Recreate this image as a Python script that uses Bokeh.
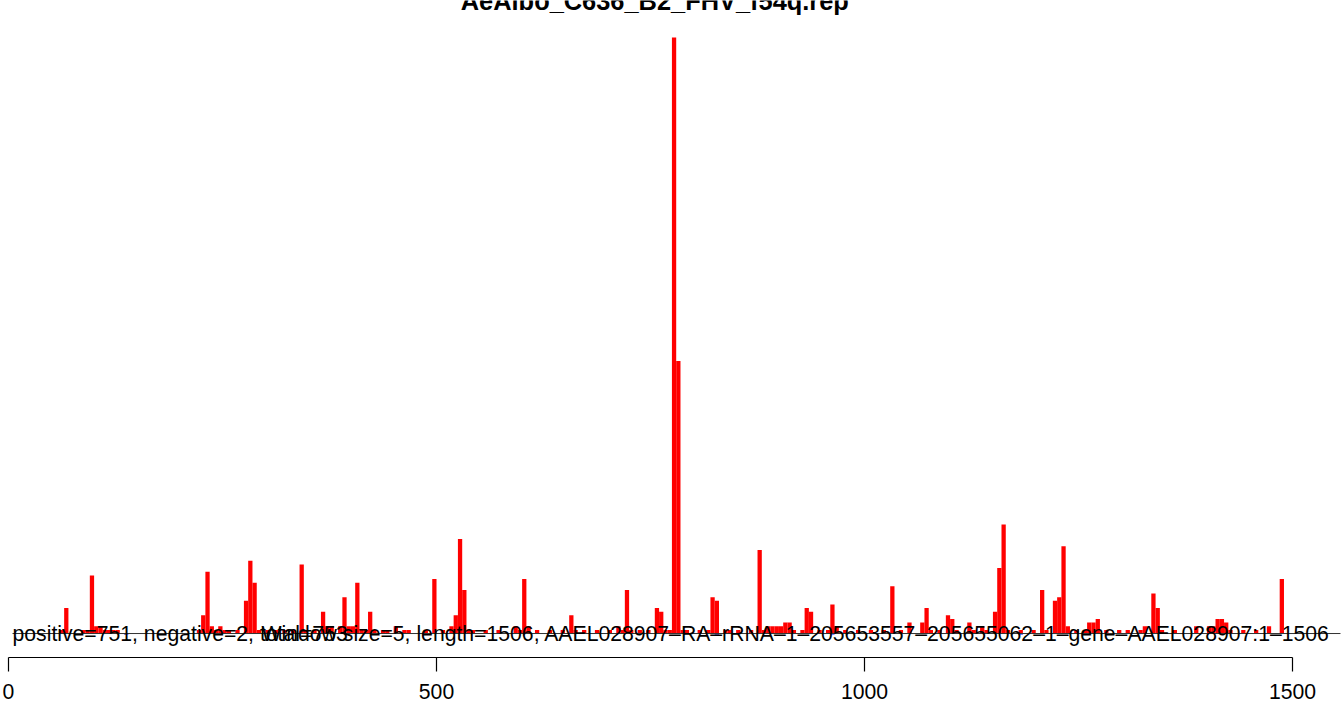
from bokeh.plotting import figure
from bokeh.models import Range1d, LinearAxis, FixedTicker, ColumnDataSource
from bokeh.core.properties import value
from bokeh.embed import file_html
from bokeh.resources import INLINE

TITLE = "AeAlbo_C636_B2_FHV_f54q.rep"
WINDOW = 5
LENGTH = 1506
POSITIVE_LABEL = "positive=751, negative=2, total=753"
INFO_LABEL = ("Window size=5, length=1506, AAEL028907\u2013RA\u2013rRNA\u20131\u2013205653557\u2013"
              "205655062\u20131\u2013gene\u2013AAEL028907:1\u20131506")
X_TICKS = [0, 500, 1000, 1500]

# window start positions and positive-strand counts
POS_BIN = [60, 65, 85, 90, 95, 100, 105, 110, 115, 120, 125, 220, 225, 230, 235, 240, 245, 250,
           255, 265, 275, 280, 285, 290, 300, 310, 320, 330, 340, 345, 355, 365, 370, 375, 385,
           390, 395, 400, 405, 410, 415, 420, 425, 435, 440, 450, 460, 465, 485, 495, 505, 515,
           520, 525, 530, 535, 540, 555, 570, 590, 595, 600, 605, 615, 630, 645, 655, 660, 670,
           685, 700, 710, 715, 720, 725, 735, 745, 755, 760, 765, 770, 775, 780, 785, 790, 805,
           815, 820, 825, 835, 840, 850, 865, 875, 880, 885, 890, 895, 900, 905, 910, 915, 925,
           930, 935, 945, 955, 960, 965, 975, 990, 1005, 1020, 1030, 1040, 1050, 1065, 1070,
           1075, 1085, 1095, 1100, 1105, 1120, 1125, 1135, 1140, 1150, 1155, 1160, 1165, 1180,
           1195, 1205, 1210, 1220, 1225, 1230, 1235, 1245, 1255, 1260, 1265, 1270, 1280, 1295,
           1305, 1320, 1325, 1335, 1340, 1345, 1360, 1385, 1400, 1405, 1410, 1415, 1420, 1425,
           1440, 1455, 1470, 1485]
POS_COUNT = [1, 7, 1, 1, 16, 2, 2, 1, 1, 1, 1, 1, 5, 17, 2, 1, 2, 1,
             1, 1, 9, 20, 14, 1, 1, 1, 1, 1, 19, 1, 1, 6, 2, 2, 2,
             10, 2, 2, 14, 1, 1, 6, 1, 1, 1, 2, 1, 1, 1, 15, 1, 2,
             5, 26, 12, 1, 1, 1, 1, 2, 1, 15, 2, 1, 1, 1, 5, 1, 1,
             1, 1, 2, 1, 12, 1, 1, 1, 7, 6, 1, 1, 164, 75, 1, 1, 1,
             1, 10, 9, 1, 1, 1, 1, 23, 1, 2, 2, 2, 2, 3, 3, 1, 1,
             7, 6, 1, 1, 8, 2, 1, 1, 1, 1, 13, 1, 3, 3, 7,
             1, 1, 5, 4, 1, 3, 1, 2, 1, 6, 18, 30, 1, 1,
             1, 12, 1, 9, 10, 24, 2, 1, 1, 3, 3, 4, 1, 1,
             1, 1, 2, 11, 7, 1, 1, 2, 2, 2, 4, 4, 3, 1,
             1, 1, 2, 15]

# negative-strand windows (drawn below the axis)
NEG_BIN = [135, 825, 960, 1180]
NEG_COUNT = [0.3, 0.3, 0.3, 0.3]

src_pos = ColumnDataSource(dict(x=[b + WINDOW / 2 for b in POS_BIN], top=POS_COUNT))
src_neg = ColumnDataSource(dict(x=[b + WINDOW / 2 for b in NEG_BIN], bottom=[-c for c in NEG_COUNT]))

p = figure(width=1344, height=706, output_backend="svg", toolbar_location=None,
           x_range=Range1d(-9.35, 1560.7), y_range=Range1d(-6.6, 174.2),
           x_axis_type=None, y_axis_type=None,
           min_border_left=0, min_border_right=0, min_border_top=0, min_border_bottom=49)
p.outline_line_color = None
p.background_fill_color = "white"
p.border_fill_color = "white"

p.vbar(x="x", top="top", bottom=0, width=WINDOW, source=src_pos,
       fill_color="#FF0000", line_color=None)
p.vbar(x="x", top=0, bottom="bottom", width=WINDOW, source=src_neg,
       fill_color="#0000FF", line_color=None)

p.segment(x0=[4.7], y0=[0], x1=[1556], y1=[0], line_color="#333333", line_width=1)

p.text(x=[4.7], y=[0], text=[POSITIVE_LABEL], text_font=value("Liberation Sans"),
       text_font_size="21.2px", text_color="black", text_align="left",
       text_baseline="alphabetic")
p.text(x=[295.6], y=[0], text=[INFO_LABEL], text_font=value("Liberation Sans"),
       text_font_size="21.2px", text_color="black", text_align="left",
       text_baseline="alphabetic")

p.text(x=[LENGTH / 2 + 2], y=[174.0], text=[TITLE], text_font=value("Liberation Sans"),
       text_font_size="25.4px", text_font_style="bold", text_color="black",
       text_align="center", text_baseline="alphabetic")

ax = LinearAxis(ticker=FixedTicker(ticks=X_TICKS), bounds=(0, 1500))
ax.axis_line_color = "black"
ax.axis_line_width = 1.2
ax.major_tick_line_color = "black"
ax.major_tick_line_width = 1.2
ax.major_tick_out = 14
ax.major_tick_in = 0
ax.minor_tick_line_color = None
ax.major_label_text_font = "Liberation Sans"
ax.major_label_text_font_size = "21.2px"
ax.major_label_text_color = "black"
ax.major_label_standoff = 12
p.add_layout(ax, "below")

open("out.html", "w").write(file_html(p, INLINE))
